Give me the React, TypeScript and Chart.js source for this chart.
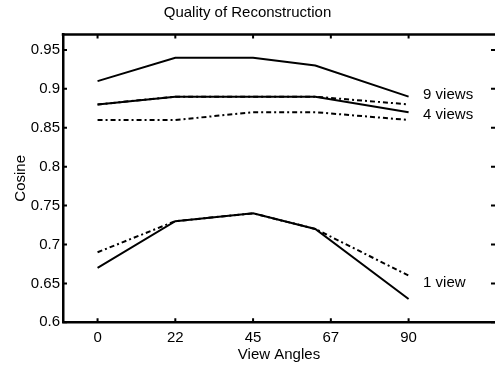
import { useEffect, useRef } from "react";
import { Chart, registerables } from "chart.js";

Chart.register(...registerables);

const xAngles = [0, 22.5, 45, 63, 90];
const xTickValues = [0, 22.5, 45, 67.5, 90];
const xTickLabels = ["0", "22", "45", "67", "90"];
const yTickValues = [0.6, 0.65, 0.7, 0.75, 0.8, 0.85, 0.9, 0.95];

const nineSolid = [0.91, 0.94, 0.94, 0.93, 0.89];
const fourSolid = [0.88, 0.89, 0.89, 0.89, 0.87];
const nineDash = [0.88, 0.89, 0.89, 0.89, 0.88];
const fourDash = [0.86, 0.86, 0.87, 0.87, 0.86];
const oneSolid = [0.67, 0.73, 0.74, 0.72, 0.63];
const oneDash = [0.69, 0.73, 0.74, 0.72, 0.66];

const labelTexts = ["9 views", "4 views", "1 view"];
const labelX = [94.2, 94.2, 94.2];
const labelY = [0.892, 0.8667, 0.651];

const FONT = "'Liberation Sans', Arial, Helvetica, sans-serif";

function pts(ys: number[]) {
  return ys.map((y, i) => ({ x: xAngles[i], y }));
}

const framePlugin = {
  id: "frame",
  afterDraw(chart: any) {
    const { ctx, chartArea: a, scales } = chart;
    const x = scales.x;
    const y = scales.y;
    ctx.save();
    ctx.strokeStyle = "#000";
    ctx.lineWidth = 2.5;
    ctx.beginPath();
    ctx.moveTo(a.left - 1.25, a.top);
    ctx.lineTo(a.right + 2, a.top);
    ctx.stroke();
    ctx.lineWidth = 2;
    const tl = 4;
    ctx.beginPath();
    xTickValues.forEach((v) => {
      const px = x.getPixelForValue(v);
      ctx.moveTo(px, a.bottom);
      ctx.lineTo(px, a.bottom - tl);
      ctx.moveTo(px, a.top);
      ctx.lineTo(px, a.top + tl);
    });
    yTickValues.forEach((v) => {
      const py = y.getPixelForValue(v);
      ctx.moveTo(a.left, py);
      ctx.lineTo(a.left + tl, py);
      ctx.moveTo(a.right, py);
      ctx.lineTo(a.right - tl, py);
    });
    ctx.stroke();
    ctx.fillStyle = "#000";
    ctx.font = `15px ${FONT}`;
    ctx.textAlign = "left";
    ctx.textBaseline = "middle";
    labelTexts.forEach((t, i) => {
      ctx.fillText(t, x.getPixelForValue(labelX[i]), y.getPixelForValue(labelY[i]));
    });
    ctx.restore();
  },
};

export default function App() {
  const ref = useRef<HTMLCanvasElement | null>(null);
  useEffect(() => {
    if (!ref.current) return;
    Chart.defaults.font.family = FONT;
    Chart.defaults.color = "#000";
    const solid = (d: number[]) => ({
      data: pts(d),
      borderColor: "#000",
      borderWidth: 2,
      pointRadius: 0,
      tension: 0,
      fill: false,
    });
    const dash = (d: number[]) => ({
      ...solid(d),
      borderDash: [5, 3, 2, 3],
    });
    const chart = new Chart(ref.current, {
      type: "line",
      data: {
        datasets: [
          solid(nineSolid),
          solid(fourSolid),
          solid(oneSolid),
          dash(nineDash),
          dash(fourDash),
          dash(oneDash),
        ],
      },
      options: {
        responsive: false,
        animation: false,
        layout: { padding: 0 },
        plugins: {
          legend: { display: false },
          tooltip: { enabled: false },
          title: {
            display: true,
            text: "Quality of Reconstruction",
            font: { size: 15, weight: "normal" },
            color: "#000",
            padding: { top: 4, bottom: 12.4 },
          },
        },
        scales: {
          x: {
            type: "linear",
            min: -10,
            max: 115,
            afterFit: (s: any) => {
              s.height = 44.7;
            },
            afterBuildTicks: (s: any) => {
              s.ticks = xTickValues.map((v) => ({ value: v }));
            },
            ticks: {
              font: { size: 15 },
              color: "#000",
              padding: 7,
              maxRotation: 0,
              autoSkip: false,
              callback: (v: any) => {
                const i = xTickValues.indexOf(Number(v));
                return i >= 0 ? xTickLabels[i] : "";
              },
            },
            grid: { display: false, drawTicks: false },
            border: { display: true, color: "#000", width: 2.5 },
            title: {
              display: true,
              text: "View Angles",
              font: { size: 15 },
              color: "#000",
              padding: { top: 0, bottom: 3 },
            },
          },
          y: {
            type: "linear",
            min: 0.6,
            max: 0.97,
            afterFit: (s: any) => {
              s.width = 63;
            },
            afterBuildTicks: (s: any) => {
              s.ticks = yTickValues.map((v) => ({ value: v }));
            },
            ticks: {
              font: { size: 15 },
              color: "#000",
              padding: 3,
              autoSkip: false,
              callback: (v: any) => String(Number(Number(v).toFixed(2))),
            },
            grid: { display: false, drawTicks: false },
            border: { display: true, color: "#000", width: 2.5 },
            title: {
              display: true,
              text: "Cosine",
              font: { size: 15 },
              color: "#000",
              padding: { top: 12, bottom: 0 },
            },
          },
        },
      },
      plugins: [framePlugin],
    });
    return () => chart.destroy();
  }, []);
  return (
    <canvas
      ref={ref}
      width={495}
      height={367}
      style={{ position: "absolute", left: 0, top: 0, display: "block" }}
    />
  );
}
